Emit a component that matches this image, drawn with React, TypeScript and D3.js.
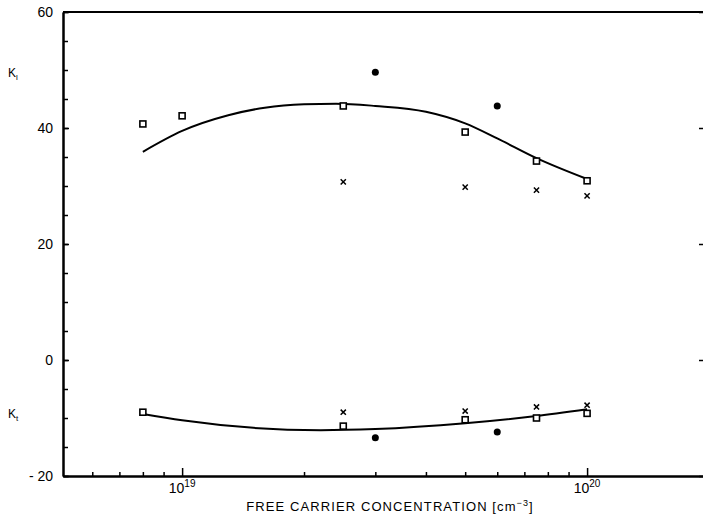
import React, { useEffect, useRef } from "react";
import * as d3 from "d3";

const width = 703;
const height = 523;
const margin = { top: 12, right: -6, bottom: 47, left: 63 };

// carrier concentrations (cm^-3)
const klSquares: [number, number][] = [
  [8e18, 40.7], [1e19, 42.1], [2.5e19, 43.8], [5e19, 39.3], [7.5e19, 34.3], [1e20, 30.9]
];
const klDots: [number, number][] = [[3e19, 49.6], [6e19, 43.8]];
const klCrosses: [number, number][] = [[2.5e19, 30.7], [5e19, 29.8], [7.5e19, 29.3], [1e20, 28.3]];
const klFit: [number, number][] = [
  [8e18, 35.9], [1e19, 39.5], [1.3e19, 42.2], [1.6e19, 43.5], [2e19, 44.1], [2.4e19, 44.2],
  [3e19, 43.8], [4e19, 42.8], [5e19, 40.8], [6e19, 38.2], [7.5e19, 34.8], [1e20, 31.2]
];

const ktSquares: [number, number][] = [
  [8e18, -9.0], [2.5e19, -11.4], [5e19, -10.3], [7.5e19, -10.0], [1e20, -9.2]
];
const ktDots: [number, number][] = [[3e19, -13.4], [6e19, -12.4]];
const ktCrosses: [number, number][] = [[2.5e19, -9.0], [5e19, -8.8], [7.5e19, -8.1], [1e20, -7.8]];
const ktFit: [number, number][] = [
  [8e18, -9.3], [1e19, -10.4], [1.5e19, -11.7], [2.2e19, -12.1], [3e19, -11.9],
  [5e19, -10.9], [7.4e19, -9.7], [1e20, -8.5]
];

const yMajor = [-20, 0, 20, 40, 60];
const xMajor = [1e19, 1e20];
const xMajorExp = ["19", "20"];

const font = "'Liberation Sans', Arial, sans-serif";

export default function App() {
  const leftMinor = useRef<SVGGElement>(null);
  const leftMajor = useRef<SVGGElement>(null);
  const bottomMinor = useRef<SVGGElement>(null);
  const bottomMajor = useRef<SVGGElement>(null);
  const rightAxis = useRef<SVGGElement>(null);

  const x = d3.scaleLog().domain([5.08e18, 2e20]).range([margin.left, width - margin.right]);
  const y = d3.scaleLinear().domain([-20, 60]).range([height - margin.bottom, margin.top]);

  const line = d3
    .line<[number, number]>()
    .x((d) => x(d[0]))
    .y((d) => y(d[1]))
    .curve(d3.curveMonotoneX);

  useEffect(() => {
    // small inward ticks every 5 units
    d3.select(leftMinor.current).call(
      d3.axisLeft(y).tickValues(d3.range(-20, 61, 5)).tickSize(-5).tickSizeOuter(0).tickFormat(() => "")
    );
    d3.select(leftMajor.current).call(
      d3.axisLeft(y).tickValues(yMajor).tickSize(-6).tickSizeOuter(0).tickPadding(10)
        .tickFormat((d) => (+d < 0 ? "- " + Math.abs(+d) : String(d)))
    );
    const minors = [6e18, 7e18, 8e18, 9e18, 2e19, 3e19, 4e19, 5e19, 6e19, 7e19, 8e19, 9e19];
    d3.select(bottomMinor.current).call(
      d3.axisBottom(x).tickValues(minors).tickSize(-4).tickSizeOuter(0).tickFormat(() => "")
    );
    d3.select(bottomMajor.current).call(
      d3.axisBottom(x).tickValues(xMajor).tickSize(-8).tickSizeOuter(0).tickFormat(() => "")
    );
    d3.select(rightAxis.current).call(
      d3.axisRight(y).tickValues(yMajor).tickSize(-10).tickSizeOuter(0).tickFormat(() => "")
    );
    [leftMinor, leftMajor, bottomMinor, bottomMajor, rightAxis].forEach((r) => {
      const g = d3.select(r.current);
      g.selectAll("path.domain").attr("stroke-width", 2);
      g.selectAll(".tick line").attr("stroke-width", 1.5);
      g.selectAll("text").attr("font-family", font).attr("font-size", 14).attr("fill", "#000");
    });
  }, []);

  const sq = 6;
  const cr = 2.6;

  const marks = (sqs: [number, number][], dots: [number, number][], crosses: [number, number][]) => (
    <g>
      {sqs.map((d, i) => (
        <rect key={"s" + i} x={x(d[0]) - sq / 2} y={y(d[1]) - sq / 2} width={sq} height={sq}
          fill="#fff" stroke="#000" strokeWidth={1.6} />
      ))}
      {dots.map((d, i) => (
        <circle key={"d" + i} cx={x(d[0])} cy={y(d[1])} r={3.5} fill="#000" />
      ))}
      {crosses.map((d, i) => (
        <path key={"c" + i}
          d={`M${x(d[0]) - cr},${y(d[1]) - cr}L${x(d[0]) + cr},${y(d[1]) + cr}M${x(d[0]) - cr},${y(d[1]) + cr}L${x(d[0]) + cr},${y(d[1]) - cr}`}
          stroke="#000" strokeWidth={1.5} />
      ))}
    </g>
  );

  return (
    <div>
      <style>{`body{margin:0}`}</style>
      <svg width={width} height={height} style={{ display: "block", background: "#fff" }}>
        <line x1={margin.left} x2={width} y1={margin.top} y2={margin.top} stroke="#000" strokeWidth={2} />
        <g ref={leftMinor} transform={`translate(${margin.left},0)`} />
        <g ref={leftMajor} transform={`translate(${margin.left},0)`} />
        <g ref={bottomMinor} transform={`translate(0,${height - margin.bottom})`} />
        <g ref={bottomMajor} transform={`translate(0,${height - margin.bottom})`} />
        <g ref={rightAxis} transform={`translate(${width - margin.right},0)`} />

        {xMajor.map((v, i) => (
          <text key={v} x={x(v)} y={493} fontFamily={font} fontSize={14} textAnchor="middle">
            10<tspan dy={-6} fontSize={10}>{xMajorExp[i]}</tspan>
          </text>
        ))}

        <text x={8} y={77} fontFamily={font} fontSize={12}>
          K<tspan dy={3} fontSize={8}>l</tspan>
        </text>
        <text x={8} y={418} fontFamily={font} fontSize={12}>
          K<tspan dy={3} fontSize={8}>t</tspan>
        </text>

        <text x={390} y={511} fontFamily={font} fontSize={13} textAnchor="middle" letterSpacing={1.1}>
          FREE CARRIER CONCENTRATION [cm<tspan dy={-5} fontSize={9}>−3</tspan><tspan dy={5}>]</tspan>
        </text>

        <path d={line(klFit) || ""} fill="none" stroke="#000" strokeWidth={2} />
        <path d={line(ktFit) || ""} fill="none" stroke="#000" strokeWidth={2} />
        {marks(klSquares, klDots, klCrosses)}
        {marks(ktSquares, ktDots, ktCrosses)}
      </svg>
    </div>
  );
}
